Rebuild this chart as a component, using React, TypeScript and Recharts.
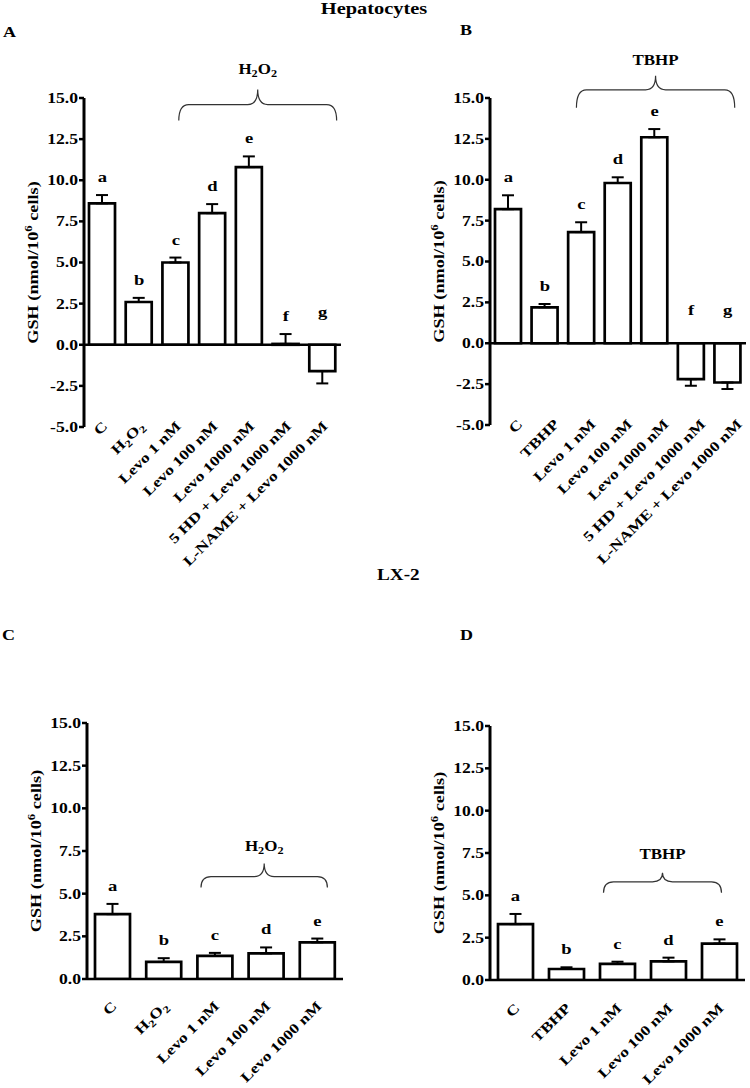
import React from 'react';
import { ComposedChart, Bar, ErrorBar, Line, XAxis, YAxis, ReferenceLine } from 'recharts';

const FONT = '"Liberation Serif", serif';
const S = 1.26; // the original fonts are drawn horizontally stretched

// A - hepatocytes, H2O2
const catsA = ['C', 'H2O2', 'Levo 1 nM', 'Levo 100 nM', 'Levo 1000 nM', '5 HD + Levo 1000 nM', 'L-NAME + Levo 1000 nM'];
const meanA = [8.6, 2.6, 5.0, 8.0, 10.8, 0.05, -1.6];
const semA = [0.5, 0.25, 0.3, 0.55, 0.65, 0.6, 0.75];
const lettersA = ['a', 'b', 'c', 'd', 'e', 'f', 'g'];

// B - hepatocytes, TBHP
const catsB = ['C', 'TBHP', 'Levo 1 nM', 'Levo 100 nM', 'Levo 1000 nM', '5 HD + Levo 1000 nM', 'L-NAME + Levo 1000 nM'];
const meanB = [8.2, 2.2, 6.8, 9.8, 12.6, -2.2, -2.4];
const semB = [0.85, 0.2, 0.6, 0.35, 0.5, 0.4, 0.4];
const lettersB = ['a', 'b', 'c', 'd', 'e', 'f', 'g'];

// C - LX-2, H2O2
const catsC = ['C', 'H2O2', 'Levo 1 nM', 'Levo 100 nM', 'Levo 1000 nM'];
const meanC = [3.8, 1.0, 1.35, 1.5, 2.15];
const semC = [0.6, 0.22, 0.18, 0.35, 0.22];
const lettersC = ['a', 'b', 'c', 'd', 'e'];

// D - LX-2, TBHP
const catsD = ['C', 'TBHP', 'Levo 1 nM', 'Levo 100 nM', 'Levo 1000 nM'];
const meanD = [3.3, 0.65, 0.95, 1.1, 2.15];
const semD = [0.6, 0.1, 0.13, 0.22, 0.25];
const lettersD = ['a', 'b', 'c', 'd', 'e'];

const ticksNeg = [-5, -2.5, 0, 2.5, 5, 7.5, 10, 12.5, 15];
const ticksPos = [0, 2.5, 5, 7.5, 10, 12.5, 15];

function chem(label: string, size: number) {
  if (label !== 'H2O2') return label;
  const sub = size * 0.72;
  return [
    <tspan key="h">H</tspan>,
    <tspan key="s1" fontSize={sub} dy={size * 0.25}>2</tspan>,
    <tspan key="o" dy={-size * 0.25}>O</tspan>,
    <tspan key="s2" fontSize={sub} dy={size * 0.25}>2</tspan>,
  ];
}

const txt = { fontFamily: FONT, fontWeight: 'bold', fill: '#000' } as const;

const YTick = (p: any) => (
  <text transform={`translate(${p.x},${p.y}) scale(${S},1)`} textAnchor="end" dy="0.35em" fontSize={14} {...txt}>
    {Number(p.payload.value).toFixed(1)}
  </text>
);

const makeXTick = (baseY: number, dx: number, dy: number) => (p: any) => (
  <text transform={`translate(${p.x + dx},${baseY + dy}) rotate(-45) scale(${S},1)`} textAnchor="end" fontSize={14} {...txt}>
    {chem(String(p.payload.value), 14)}
  </text>
);

const YLabel = (p: any) => {
  const vb = p.viewBox || {};
  const cx = vb.x + vb.width - 51;
  const cy = vb.y + vb.height / 2;
  return (
    <text transform={`translate(${cx},${cy}) rotate(-90) scale(${S},1)`} textAnchor="middle" dy="0.35em" fontSize={14.5} {...txt}>
      GSH (nmol/10<tspan fontSize={10} dy={-6}>6</tspan><tspan dy={6}> cells)</tspan>
    </text>
  );
};

type BraceCfg = { yv: number; padL: number; padR: number; dEnd: number; dPeak: number; gap: number; label: string };

const Brace = (p: any) => {
  const cfg: BraceCfg = p.cfg;
  const xL = p.x1 + cfg.padL;
  const xR = p.x2 + cfg.padR;
  const y = p.y1;
  const xm = (xL + xR) / 2;
  const r = 10;
  const d = `M${xL},${y + cfg.dEnd} Q${xL},${y} ${xL + r},${y} L${xm - r},${y} Q${xm},${y} ${xm},${y - cfg.dPeak} Q${xm},${y} ${xm + r},${y} L${xR - r},${y} Q${xR},${y} ${xR},${y + cfg.dEnd}`;
  return (
    <g>
      <path d={d} fill="none" stroke="#333" strokeWidth={1.2} />
      <text transform={`translate(${xm},${y - cfg.dPeak - cfg.gap}) scale(1.13,1)`} textAnchor="middle" fontSize={15} {...txt}>
        {chem(cfg.label, 15)}
      </text>
    </g>
  );
};

type Box = { left: number; top: number; width: number; height: number; plotLeft: number; plotRight: number; plotTop: number; plotBottom: number };

type PanelProps = {
  cats: string[];
  means: number[];
  sems: number[];
  letters: string[];
  ticks: number[];
  box: Box;
  barSize: number;
  tickDx: number;
  tickDy: number;
  brace: BraceCfg;
};

function Panel({ cats, means, sems, letters, ticks, box, barSize, tickDx, tickDy, brace }: PanelProps) {
  const data = cats.map((name, i) => ({
    name,
    value: means[i],
    err: means[i] >= 0 ? [0, sems[i]] : [sems[i], 0],
    mark: means[i] >= 0 ? means[i] + sems[i] : 0,
    letter: letters[i],
  }));
  const mb = 2;
  const margin = { top: box.plotTop - box.top, right: box.left + box.width - box.plotRight, bottom: mb, left: 0 };
  const xAxisHeight = box.top + box.height - mb - box.plotBottom;
  const renderLetter = (p: any) => {
    const neg = p.payload.value < 0;
    return (
      <text key={`l${p.index}`} transform={`translate(${p.cx},${p.cy - (neg ? 28 : 13)}) scale(1.2,1)`} textAnchor="middle" fontSize={15.5} {...txt}>
        {p.payload.letter}
      </text>
    );
  };
  return (
    <div style={{ position: 'absolute', left: box.left, top: box.top }}>
      <ComposedChart width={box.width} height={box.height} data={data} margin={margin}>
        <XAxis
          dataKey="name"
          interval={0}
          axisLine={false}
          tickLine={false}
          tickSize={0}
          tickMargin={0}
          height={xAxisHeight}
          tick={makeXTick(box.plotBottom - box.top, tickDx, tickDy)}
        />
        <YAxis
          domain={[ticks[0], ticks[ticks.length - 1]]}
          ticks={ticks}
          interval={0}
          allowDataOverflow
          width={box.plotLeft - box.left}
          axisLine={{ stroke: '#000', strokeWidth: 3 }}
          tickLine={{ stroke: '#000', strokeWidth: 2.5 }}
          tickSize={5}
          tickMargin={1}
          tick={YTick}
          label={<YLabel />}
        />
        <Bar dataKey="value" fill="#fff" stroke="#000" strokeWidth={2.7} barSize={barSize} isAnimationActive={false}>
          <ErrorBar dataKey="err" width={6} stroke="#000" strokeWidth={2} direction="y" />
        </Bar>
        <ReferenceLine y={0} stroke="#000" strokeWidth={2.5} />
        <ReferenceLine
          segment={[{ x: cats[2], y: brace.yv }, { x: cats[cats.length - 1], y: brace.yv }]}
          ifOverflow="visible"
          shape={(p: any) => <Brace {...p} cfg={brace} />}
        />
        <Line dataKey="mark" stroke="none" dot={renderLetter} activeDot={false} legendType="none" isAnimationActive={false} />
      </ComposedChart>
    </div>
  );
}

export default function App() {
  return (
    <div style={{ position: 'absolute', left: 0, top: 0, width: 750, height: 1088, background: '#fff', overflow: 'hidden' }}>
      <Panel
        cats={catsA} means={meanA} sems={semA} letters={lettersA} ticks={ticksNeg}
        box={{ left: 0, top: 0, width: 375, height: 595, plotLeft: 84, plotRight: 341, plotTop: 98, plotBottom: 427 }}
        barSize={26} tickDx={6} tickDy={0}
        brace={{ yv: 14.6, padL: 3, padR: 14, dEnd: 16, dPeak: 15, gap: 16, label: 'H2O2' }}
      />
      <Panel
        cats={catsB} means={meanB} sems={semB} letters={lettersB} ticks={ticksNeg}
        box={{ left: 375, top: 0, width: 375, height: 595, plotLeft: 490, plotRight: 746, plotTop: 98, plotBottom: 425 }}
        barSize={26} tickDx={15} tickDy={0}
        brace={{ yv: 15.5, padL: -5, padR: 7, dEnd: 18, dPeak: 14, gap: 11, label: 'TBHP' }}
      />
      <Panel
        cats={catsC} means={meanC} sems={semC} letters={lettersC} ticks={ticksPos}
        box={{ left: 0, top: 600, width: 375, height: 488, plotLeft: 87, plotRight: 343, plotTop: 723, plotBottom: 979 }}
        barSize={35} tickDx={5} tickDy={28}
        brace={{ yv: 6.0, padL: -14, padR: 10, dEnd: 11, dPeak: 13, gap: 13, label: 'H2O2' }}
      />
      <Panel
        cats={catsD} means={meanD} sems={semD} letters={lettersD} ticks={ticksPos}
        box={{ left: 375, top: 600, width: 375, height: 488, plotLeft: 490, plotRight: 745, plotTop: 726, plotBottom: 980 }}
        barSize={35} tickDx={5} tickDy={29}
        brace={{ yv: 5.8, padL: -14, padR: 2, dEnd: 11, dPeak: 9, gap: 14, label: 'TBHP' }}
      />
      <svg width={750} height={1088} style={{ position: 'absolute', left: 0, top: 0, pointerEvents: 'none' }}>
        <text transform="translate(374,14) scale(1.2,1)" textAnchor="middle" fontSize={17} {...txt}>Hepatocytes</text>
        <text transform="translate(3,37) scale(1.2,1)" fontSize={15} {...txt}>A</text>
        <text transform="translate(460,35) scale(1.2,1)" fontSize={15} {...txt}>B</text>
        <text transform="translate(377,580) scale(1.2,1)" fontSize={16} {...txt}>LX-2</text>
        <text transform="translate(2,640) scale(1.2,1)" fontSize={15} {...txt}>C</text>
        <text transform="translate(460,640) scale(1.2,1)" fontSize={15} {...txt}>D</text>
      </svg>
    </div>
  );
}
